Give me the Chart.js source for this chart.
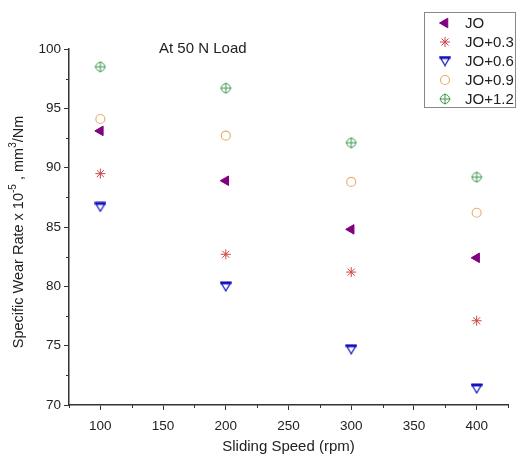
<!DOCTYPE html>
<html>
<head>
<meta charset="utf-8">
<script src="https://cdn.jsdelivr.net/npm/chart.js@4.4.1/dist/chart.umd.min.js"></script>
<style>
  body { margin: 0; background: #fff; }
  #wrap { width: 518px; height: 456px; }
</style>
</head>
<body>
<div id="wrap"><canvas id="chart1" width="518" height="456"></canvas></div>
<script>
var speeds = [100, 200, 300, 400];
var seriesNames = ["JO", "JO+0.3", "JO+0.6", "JO+0.9", "JO+1.2"];
var jo    = [93.1, 88.9, 84.8, 82.4];
var jo03  = [89.5, 82.7, 81.2, 77.1];
var jo06  = [86.7, 80.0, 74.7, 71.4];
var jo09  = [94.1, 92.7, 88.8, 86.2];
var jo12  = [98.5, 96.7, 92.1, 89.2];
var xTicks = [100, 150, 200, 250, 300, 350, 400];
var yTicks = [70, 75, 80, 85, 90, 95, 100];

var FONT = "'Liberation Sans', Arial, sans-serif";

// marcador verde: circulo con cruz
function crearCirculoCruz(){
    var c = document.createElement('canvas');
    c.width = 12; c.height = 12;
    var g = c.getContext('2d');
    g.strokeStyle = "#3f9a4f";
    g.lineWidth = 1;
    g.beginPath(); g.arc(6, 6, 4.5, 0, Math.PI*2); g.stroke();
    g.beginPath();
    g.moveTo(6, 0.5); g.lineTo(6, 11.5);
    g.moveTo(0.5, 6); g.lineTo(11.5, 6);
    g.stroke();
    return c;
}
// marcador azul: triangulo invertido con la parte de arriba rellena
function crearTrianguloAbajo(){
    var c = document.createElement('canvas');
    c.width = 12; c.height = 11;
    var g = c.getContext('2d');
    g.strokeStyle = "#1010c0";
    g.lineWidth = 1.2;
    g.beginPath();
    g.moveTo(1, 1.5); g.lineTo(11, 1.5); g.lineTo(6, 10); g.closePath();
    g.stroke();
    g.fillStyle = "#1010c0";
    g.fillRect(0.5, 0.5, 11, 3);
    return c;
}
var imgVerde = crearCirculoCruz();
var imgAzul = crearTrianguloAbajo();

function armarPuntos(vals){
    var out = [];
    for (var i = 0; i < speeds.length; i++) out.push({x: speeds[i], y: vals[i]});
    return out;
}

var datasets = [
    { label: seriesNames[0], data: armarPuntos(jo), pointStyle: 'triangle', rotation: -90,
      backgroundColor: "#800080", borderColor: "#800080", pointRadius: 5.5, borderWidth: 1 },
    { label: seriesNames[1], data: armarPuntos(jo03), pointStyle: 'star',
      backgroundColor: "#d04545", borderColor: "#d04545", pointRadius: 5, borderWidth: 1 },
    { label: seriesNames[2], data: armarPuntos(jo06), pointStyle: imgAzul,
      backgroundColor: "#1010c0", borderColor: "#1010c0", pointRadius: 5 },
    { label: seriesNames[3], data: armarPuntos(jo09), pointStyle: 'circle',
      backgroundColor: "#ffffff", borderColor: "#e8b070", pointRadius: 4.5, borderWidth: 1.2 },
    { label: seriesNames[4], data: armarPuntos(jo12), pointStyle: imgVerde,
      backgroundColor: "#3f9a4f", borderColor: "#3f9a4f", pointRadius: 5 }
];

var extras = {
    id: 'extras',
    afterDraw: function(chart){
        var ctx = chart.ctx;
        var xs = chart.scales.x, ys = chart.scales.y;
        ctx.save();
        // ticks menores
        ctx.strokeStyle = "#333";
        ctx.lineWidth = 1;
        ctx.beginPath();
        for (var v = 72.5; v < 100; v += 5){
            var py = Math.round(ys.getPixelForValue(v)) + 0.5;
            ctx.moveTo(xs.left - 3, py); ctx.lineTo(xs.left, py);
        }
        for (var u = 75; u <= 425; u += 50){
            var px = Math.round(xs.getPixelForValue(u)) + 0.5;
            ctx.moveTo(px, ys.bottom); ctx.lineTo(px, ys.bottom + 3);
        }
        ctx.stroke();

        // texto interior
        ctx.fillStyle = "#222";
        ctx.font = "15px " + FONT;
        ctx.textBaseline = "middle";
        ctx.textAlign = "left";
        ctx.fillText("At 50 N Load", 159, 49);

        // titulo eje y con superindices
        ctx.translate(19, 232);
        ctx.rotate(-Math.PI / 2);
        var partes = [["Specific Wear Rate x 10", 0], ["-5", 1], [" , mm", 0], ["3", 1], ["/Nm", 0]];
        var total = 0;
        partes.forEach(function(p){
            ctx.font = (p[1] ? "10px " : "14.5px ") + FONT;
            total += ctx.measureText(p[0]).width;
        });
        var cx = -total / 2;
        partes.forEach(function(p){
            ctx.font = (p[1] ? "10px " : "14.5px ") + FONT;
            ctx.fillText(p[0], cx, p[1] ? -6 : 0);
            cx += ctx.measureText(p[0]).width;
        });
        ctx.restore();

        // leyenda
        ctx.save();
        ctx.strokeStyle = "#888";
        ctx.lineWidth = 1;
        ctx.fillStyle = "#fff";
        ctx.fillRect(424.5, 12.5, 91, 95);
        ctx.strokeRect(424.5, 12.5, 91, 95);
        ctx.font = "15px " + FONT;
        ctx.textBaseline = "middle";
        for (var i = 0; i < datasets.length; i++){
            var d = datasets[i];
            var ly = 23 + i * 19;
            if (d.pointStyle instanceof HTMLCanvasElement){
                ctx.drawImage(d.pointStyle, 445 - d.pointStyle.width/2, ly - d.pointStyle.height/2);
            } else {
                ctx.fillStyle = d.backgroundColor;
                ctx.strokeStyle = d.borderColor;
                ctx.lineWidth = d.borderWidth;
                Chart.helpers.drawPoint(ctx, {pointStyle: d.pointStyle, radius: d.pointRadius,
                    rotation: d.rotation || 0, borderWidth: d.borderWidth}, 445, ly);
            }
            ctx.fillStyle = "#222";
            ctx.fillText(d.label, 465, ly + 1);
        }
        ctx.restore();
    }
};

var config = {
    type: 'scatter',
    data: { datasets: datasets },
    options: {
        responsive: false,
        animation: false,
        layout: { padding: { top: 49, right: 10, left: 0, bottom: 0 } },
        plugins: { legend: { display: false }, tooltip: { enabled: false } },
        scales: {
            x: {
                type: 'linear', min: 75, max: 425,
                afterBuildTicks: function(s){ s.ticks = xTicks.map(function(v){ return {value: v}; }); },
                afterFit: function(s){ s.height = 51; },
                grid: { drawOnChartArea: false, drawTicks: true, tickLength: 5, color: "#333" },
                border: { display: true, color: "#333", width: 1.5 },
                ticks: { color: "#222", font: { family: FONT, size: 13.5 }, padding: 8 },
                title: { display: true, text: "Sliding Speed (rpm)", color: "#222",
                         font: { family: FONT, size: 15 }, padding: { top: 0, bottom: 0 } }
            },
            y: {
                type: 'linear', min: 70, max: 100,
                afterBuildTicks: function(s){ s.ticks = yTicks.map(function(v){ return {value: v}; }); },
                afterFit: function(s){ s.width = 69; },
                grid: { drawOnChartArea: false, drawTicks: true, tickLength: 5, color: "#333" },
                border: { display: true, color: "#333", width: 1.5 },
                ticks: { color: "#222", font: { family: FONT, size: 13.5 }, padding: 3 }
            }
        }
    },
    plugins: [extras]
};

var canvas = document.getElementById('chart1').getContext('2d');
window.grafico = new Chart(canvas, config);
</script>
</body>
</html>
